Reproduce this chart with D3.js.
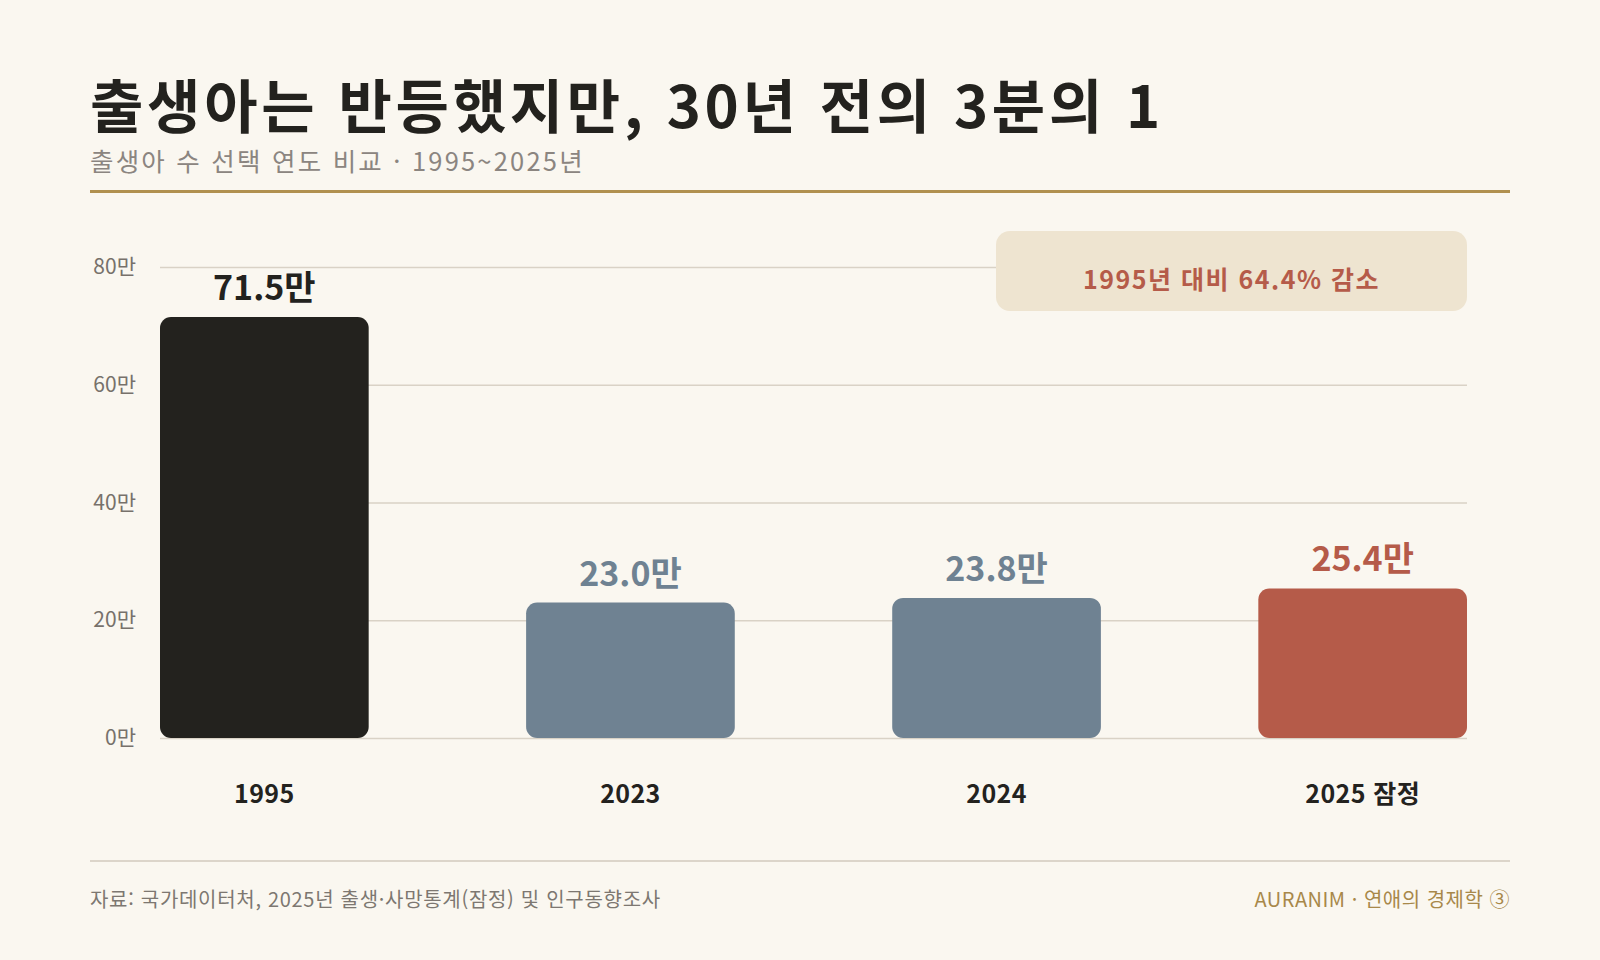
<!DOCTYPE html>
<html lang="ko">
<head>
<meta charset="utf-8">
<script src="https://cdn.jsdelivr.net/npm/d3@7"></script>
<style>
  html, body { margin: 0; padding: 0; background: #faf7f0; }
  svg { display: block; font-family: "Noto Sans CJK KR", "Noto Sans", sans-serif; }
</style>
</head>
<body>
<svg id="chart" width="1600" height="960"></svg>
<script>
// data
const years = ["1995", "2023", "2024", "2025 잠정"];
const births = [71.5, 23.0, 23.8, 25.4]; // 만 명
const barColors = ["#23221e", "#6f8292", "#6f8292", "#b55b49"];
const yTicks = [0, 20, 40, 60, 80];

const title = "출생아는 반등했지만, 30년 전의 3분의 1";
const subtitle = "출생아 수 선택 연도 비교 · 1995~2025년";
const note = "1995년 대비 64.4% 감소";
const source = "자료: 국가데이터처, 2025년 출생·사망통계(잠정) 및 인구동향조사";
const brand = "AURANIM · 연애의 경제학 ③";

const width = 1600;
const height = 960;
const margin = { top: 267, right: 133, bottom: 222, left: 160 };

const svg = d3.select("#chart");

svg.append("rect")
  .attr("width", width)
  .attr("height", height)
  .attr("fill", "#faf7f0");

// header
svg.append("text")
  .attr("x", 90)
  .attr("y", 128)
  .attr("font-size", 58)
  .attr("font-weight", 700)
  .attr("letter-spacing", 3.75)
  .attr("fill", "#23221e")
  .text(title);

svg.append("text")
  .attr("x", 90)
  .attr("y", 171)
  .attr("font-size", 25.5)
  .attr("letter-spacing", 2.2)
  .attr("fill", "#8b8580")
  .text(subtitle);

svg.append("rect")
  .attr("x", 90)
  .attr("y", 190)
  .attr("width", 1420)
  .attr("height", 3)
  .attr("fill", "#b0904f");

// scales
const x = d3.scaleBand()
  .domain(years)
  .range([margin.left, width - margin.right])
  .paddingInner(0.43)
  .paddingOuter(0);

const y = d3.scaleLinear()
  .domain([0, 80])
  .range([height - margin.bottom, margin.top]);

// y axis with gridlines
const yAxis = svg.append("g")
  .attr("transform", `translate(${margin.left},0)`)
  .call(
    d3.axisLeft(y)
      .tickValues(yTicks)
      .tickSize(-(width - margin.right - margin.left))
      .tickPadding(24)
      .tickFormat((d) => d + "만")
  );

yAxis.select(".domain").remove();
yAxis.selectAll(".tick line")
  .attr("stroke", "#d9d2c6")
  .attr("stroke-width", 1.5);
yAxis.selectAll(".tick text")
  .attr("font-size", 21)
  .attr("fill", "#77716b")
  .attr("font-family", "\"Noto Sans CJK KR\", sans-serif");

// annotation box
const boxLeft = 996;
const boxRight = x(years[3]) + x.bandwidth();
const note_g = svg.append("g");
note_g.append("rect")
  .attr("x", boxLeft)
  .attr("y", 231)
  .attr("width", boxRight - boxLeft)
  .attr("height", 80)
  .attr("rx", 14)
  .attr("fill", "#eee4d0");
note_g.append("text")
  .attr("x", (boxLeft + boxRight) / 2)
  .attr("y", 289)
  .attr("text-anchor", "middle")
  .attr("font-size", 25)
  .attr("font-weight", 700)
  .attr("letter-spacing", 1.5)
  .attr("fill", "#b55b49")
  .text(note);

// bars
const rows = years.map((yr, i) => ({ year: yr, val: births[i], color: barColors[i] }));

svg.append("g")
  .selectAll("rect")
  .data(rows)
  .join("rect")
  .attr("x", (d) => x(d.year))
  .attr("y", (d) => y(d.val))
  .attr("width", x.bandwidth())
  .attr("height", (d) => y(0) - y(d.val))
  .attr("rx", 11)
  .attr("fill", (d) => d.color);

// value labels
svg.append("g")
  .selectAll("text")
  .data(rows)
  .join("text")
  .attr("x", (d) => x(d.year) + x.bandwidth() / 2)
  .attr("y", (d) => y(d.val) - 17)
  .attr("text-anchor", "middle")
  .attr("font-size", 34)
  .attr("font-weight", 700)
  .attr("fill", (d) => d.color)
  .text((d) => d.val.toFixed(1) + "만");

// x axis labels
const xAxis = svg.append("g")
  .attr("transform", `translate(0,${y(0)})`)
  .call(d3.axisBottom(x).tickSize(0));

xAxis.select(".domain").remove();
xAxis.selectAll(".tick text")
  .attr("y", 65)
  .attr("dy", 0)
  .attr("font-size", 25)
  .attr("font-weight", 700)
  .attr("letter-spacing", 0.4)
  .attr("fill", "#23221e")
  .attr("font-family", "\"Noto Sans CJK KR\", sans-serif");

// footer
svg.append("rect")
  .attr("x", 90)
  .attr("y", 860)
  .attr("width", 1420)
  .attr("height", 2)
  .attr("fill", "#dcd5ca");

svg.append("text")
  .attr("x", 90)
  .attr("y", 907)
  .attr("font-size", 20)
  .attr("letter-spacing", 0.7)
  .attr("fill", "#7d7771")
  .text(source);

svg.append("text")
  .attr("x", 1510)
  .attr("y", 907)
  .attr("text-anchor", "end")
  .attr("font-size", 20)
  .attr("letter-spacing", 0.5)
  .attr("fill", "#a8884a")
  .text(brand);
</script>
</body>
</html>
